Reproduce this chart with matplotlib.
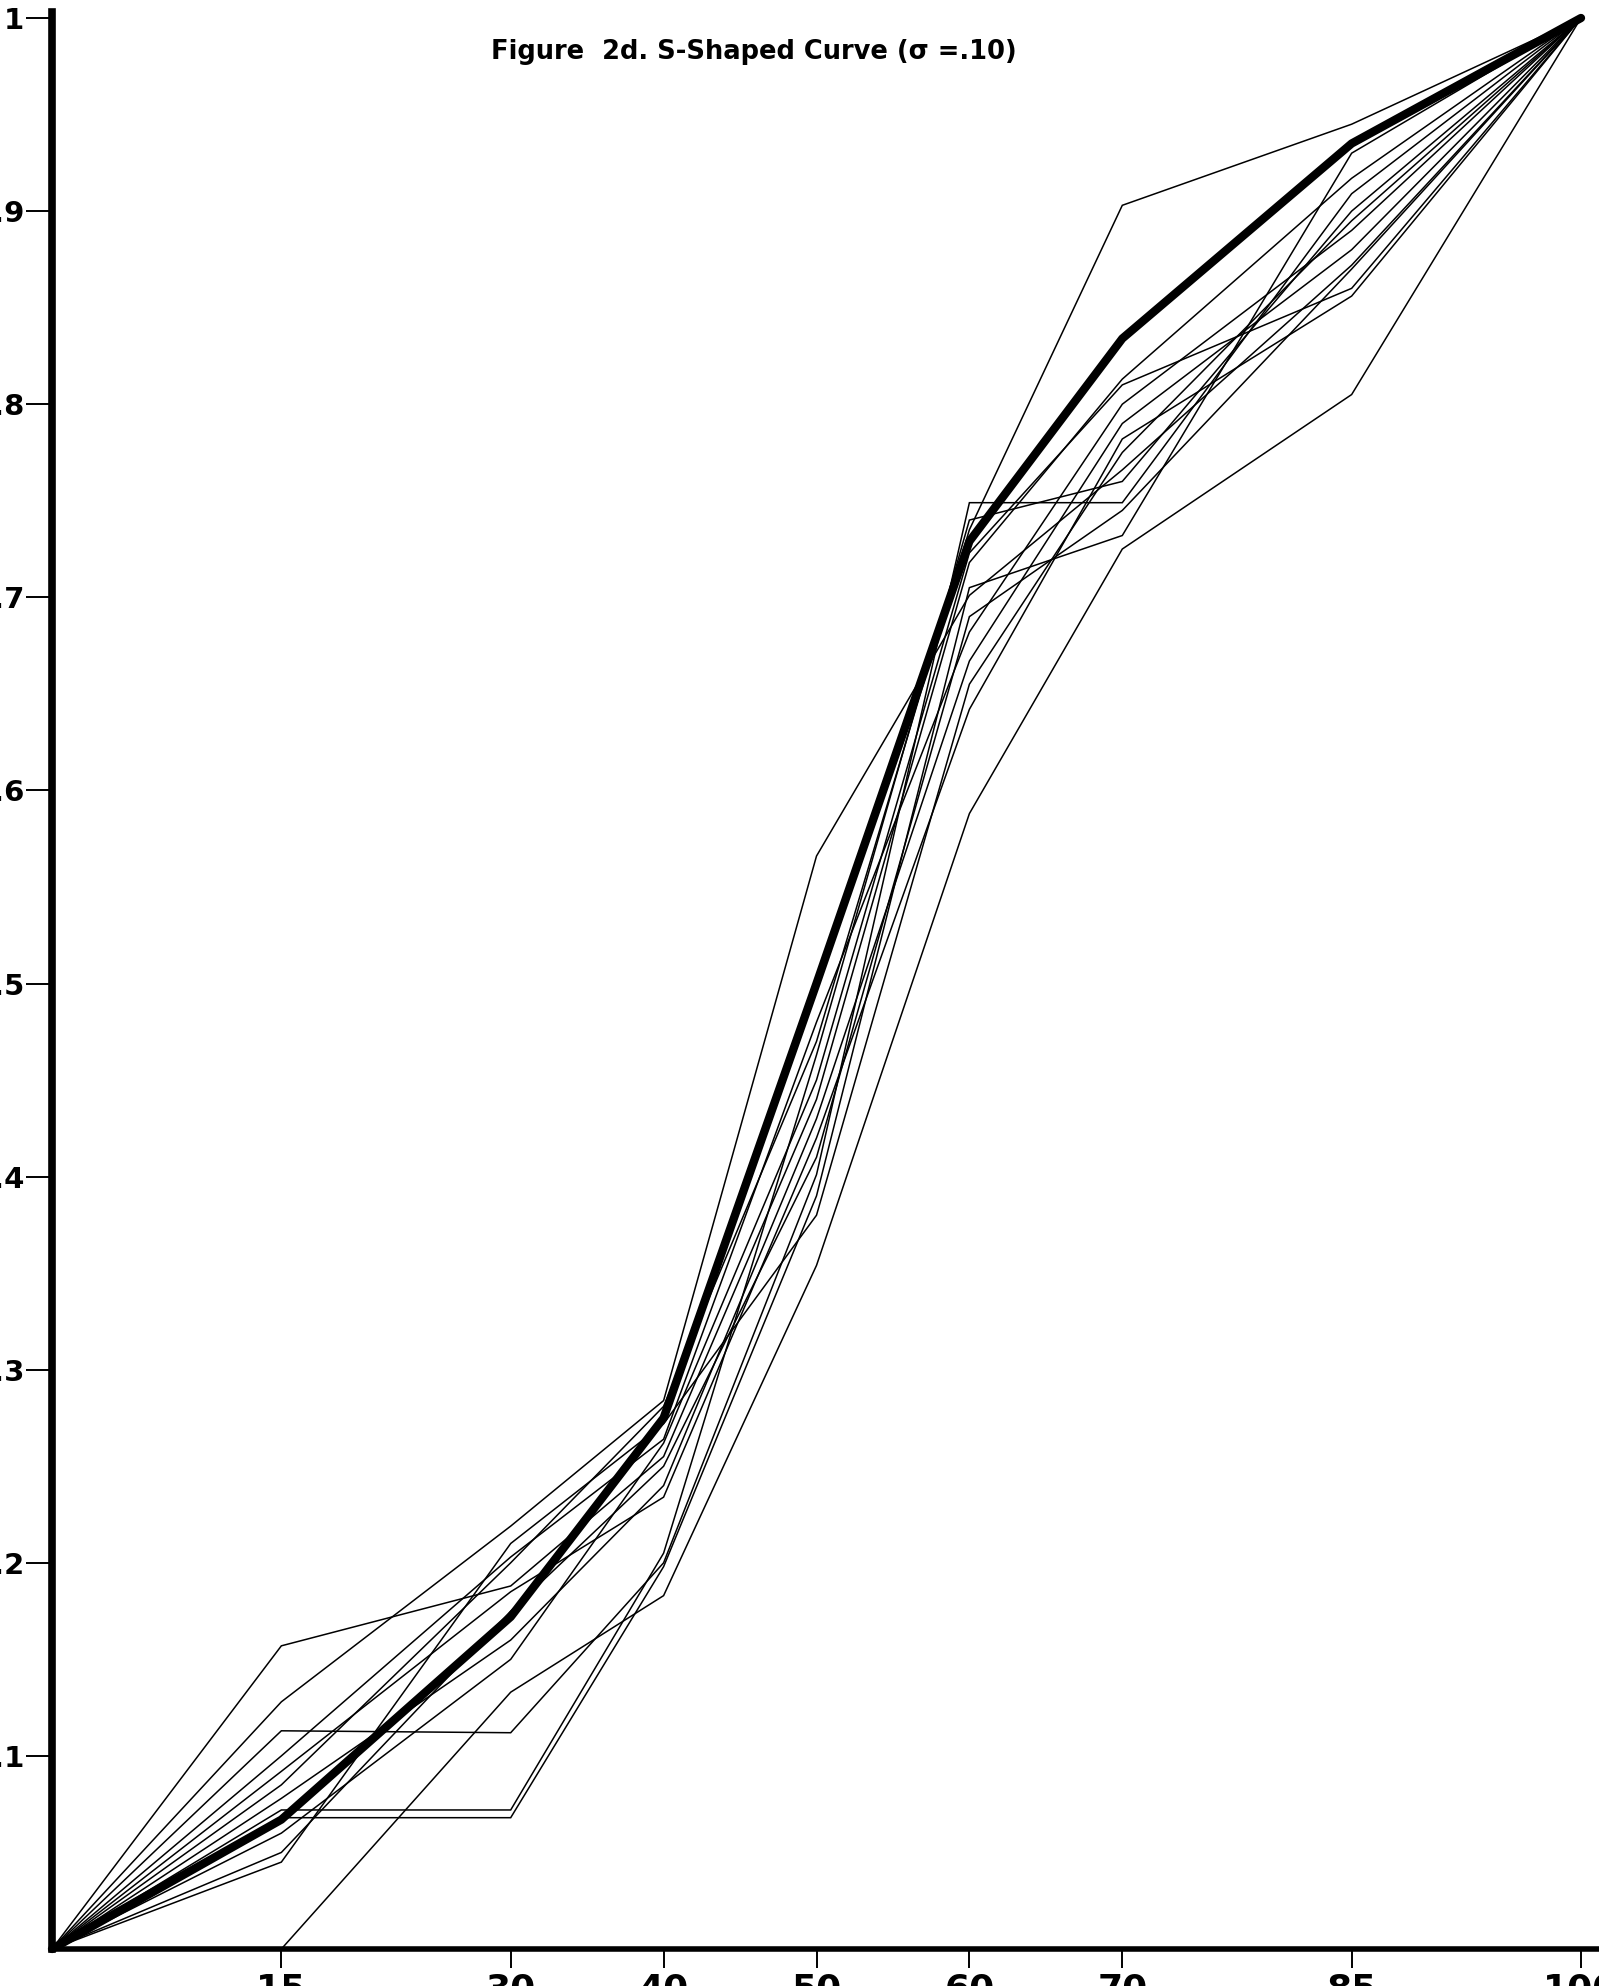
import matplotlib.pyplot as plt
import numpy as np

# x positions of the vertices (percent)
x = [0, 15, 30, 40, 50, 60, 70, 85, 100]

# heavy curve (true s-shaped function)
true_curve = [0, 0.067, 0.172, 0.275, 0.50, 0.729, 0.834, 0.935, 1.0]

# thin curves (individual estimates)
est01 = [0, 0.157, 0.188, 0.255, 0.440, 0.718, 0.813, 0.917, 1.0]
est02 = [0, 0.128, 0.219, 0.284, 0.566, 0.701, 0.766, 0.872, 1.0]
est03 = [0, 0.113, 0.112, 0.200, 0.401, 0.749, 0.749, 0.909, 1.0]
est04 = [0, 0.100, 0.203, 0.264, 0.480, 0.682, 0.800, 0.890, 1.0]
est05 = [0, 0.092, 0.185, 0.234, 0.420, 0.642, 0.782, 0.856, 1.0]
est06 = [0, 0.085, 0.200, 0.281, 0.470, 0.735, 0.903, 0.945, 1.0]
est07 = [0, 0.078, 0.160, 0.240, 0.430, 0.667, 0.790, 0.880, 1.0]
est08 = [0, 0.072, 0.072, 0.205, 0.463, 0.740, 0.760, 0.900, 1.0]
est09 = [0, 0.068, 0.068, 0.198, 0.390, 0.705, 0.732, 0.930, 1.0]
est10 = [0, 0.060, 0.150, 0.262, 0.450, 0.723, 0.810, 0.860, 1.0]
est11 = [0, 0.050, 0.175, 0.250, 0.410, 0.690, 0.745, 0.870, 1.0]
est12 = [0, 0.000, 0.133, 0.183, 0.354, 0.588, 0.725, 0.805, 1.0]
est13 = [0, 0.045, 0.210, 0.272, 0.380, 0.655, 0.775, 0.895, 1.0]
estimates = [est01, est02, est03, est04, est05, est06, est07,
             est08, est09, est10, est11, est12, est13]

xticks = [15, 30, 40, 50, 60, 70, 85, 100]
xticklabels = ['15', '30', '40', '50', '60', '70', '85', '100']
yticks = [0.1, 0.2, 0.3, 0.4, 0.5, 0.6, 0.7, 0.8, 0.9, 1.0]
yticklabels = ['.1', '.2', '.3', '.4', '.5', '.6', '.7', '.8', '.9', '1']

W, H = 1599, 1986
fig = plt.figure(figsize=(W/100, H/100), dpi=100)
x0, x100 = 52, 1581
y0, y1 = 1949, 18
xmax = 100*(W - x0)/(x100 - x0)
ytop = (y0 - 12)/(y0 - y1)
ax = fig.add_axes([x0/W, (H - y0)/H, (W - x0)/W, (y0 - 12)/H])
ax.set_xlim(0, xmax)
ax.set_ylim(0, ytop)

for e in estimates:
    ax.plot(x, e, color='black', lw=1.1, solid_joinstyle='miter', clip_on=False)
ax.plot(x, true_curve, color='black', lw=6, solid_joinstyle='round',
        solid_capstyle='round', clip_on=False, zorder=3)

for s in ['top', 'right']:
    ax.spines[s].set_visible(False)
ax.spines['left'].set_linewidth(5.5)
ax.spines['bottom'].set_linewidth(4)

ax.set_xticks(xticks)
ax.set_xticklabels(xticklabels, fontsize=26, fontweight='bold')
ax.set_yticks(yticks)
ax.set_yticklabels(yticklabels, fontsize=21, fontweight='bold')
ax.tick_params(axis='x', direction='out', length=14, width=1.4, pad=3)
ax.tick_params(axis='y', direction='out', length=19, width=1.4, pad=1)

fig.text(754/W, 1 - 52/H, 'Figure  2d. S-Shaped Curve (σ =.10)',
         ha='center', va='center', fontsize=18.5, fontweight='bold')

fig.savefig('out.png', dpi=100)
